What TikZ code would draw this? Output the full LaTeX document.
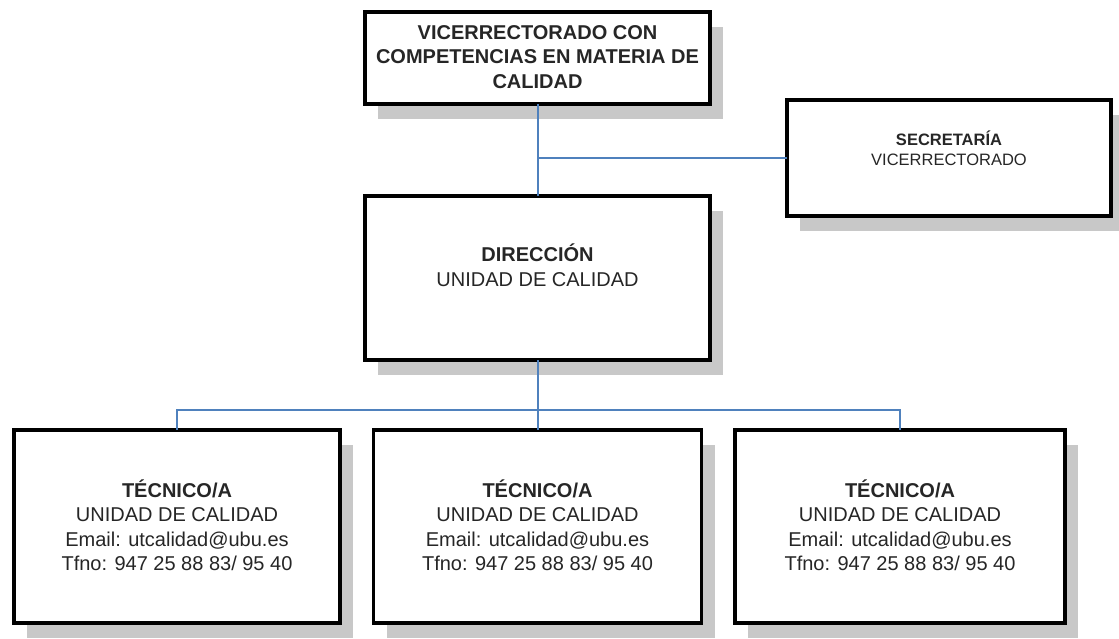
\documentclass[tikz,border=0pt]{standalone}
\usepackage{fontspec}
\setmainfont{Liberation Sans}
\usetikzlibrary{shadows}
\definecolor{linkblue}{HTML}{4F81BD}
\definecolor{shadowgray}{HTML}{C8C8C8}
\definecolor{txtgray}{HTML}{262626}
\tikzset{
  orgbox/.style={draw=black, line width=3.5pt, fill=white, inner sep=0pt, outer sep=0pt,
    drop shadow={shadow xshift=13pt, shadow yshift=-15pt, fill=shadowgray, opacity=1}},
  bigtxt/.style={font=\fontsize{20pt}{24.5pt}\selectfont, text=txtgray, align=center, inner sep=0pt},
  smalltxt/.style={font=\fontsize{16.5pt}{20pt}\selectfont, text=txtgray, align=center, inner sep=0pt},
  link/.style={draw=linkblue, line width=2pt}
}
\begin{document}
\begin{tikzpicture}[x=1pt,y=-1pt]
\useasboundingbox (0,0) rectangle (1119,639);
% boxes
\node[orgbox, minimum width=345pt, minimum height=92pt] (vic) at (537.5,58) {};
\node[orgbox, minimum width=324pt, minimum height=116pt] (sec) at (949,158) {};
\node[orgbox, minimum width=345pt, minimum height=164pt] (dir) at (537.5,278) {};
\node[orgbox, minimum width=326pt, minimum height=193pt] (t1) at (177,526.5) {};
\node[orgbox, minimum width=328pt, minimum height=193pt] (t2) at (537.5,526.5) {};
\node[orgbox, minimum width=330pt, minimum height=193pt] (t3) at (900,526.5) {};
% texts
\node[bigtxt, font=\fontsize{20pt}{24.5pt}\selectfont\bfseries] (victxt) at (537.5,57)
  {VICERRECTORADO CON\\COMPETENCIAS EN MATERIA DE\\CALIDAD};
\node[smalltxt] (sectxt) at (949,148) {\textbf{SECRETARÍA}\\VICERRECTORADO};
\node[bigtxt] (dirtxt) at (537.5,265) {\textbf{DIRECCIÓN}\\UNIDAD DE CALIDAD};
\foreach \n/\x in {t1/177, t2/537.5, t3/900}{
  \node[bigtxt] (\n txt) at (\x,525)
    {\textbf{TÉCNICO/A}\\UNIDAD DE CALIDAD\\Email: utcalidad@ubu.es\\Tfno: 947 25 88 83/ 95 40};
}
% connectors
\coordinate (jsec) at (537.5,158);
\coordinate (bus) at (537.5,410);
\draw[link] (vic.south) -- (dir.north);
\draw[link] (jsec) -- (sec.west);
\draw[link] (dir.south) -- (bus);
\draw[link] (t1.north) |- (bus) -| (t3.north);
\draw[link] (bus) -- (t2.north);
\end{tikzpicture}
\end{document}
